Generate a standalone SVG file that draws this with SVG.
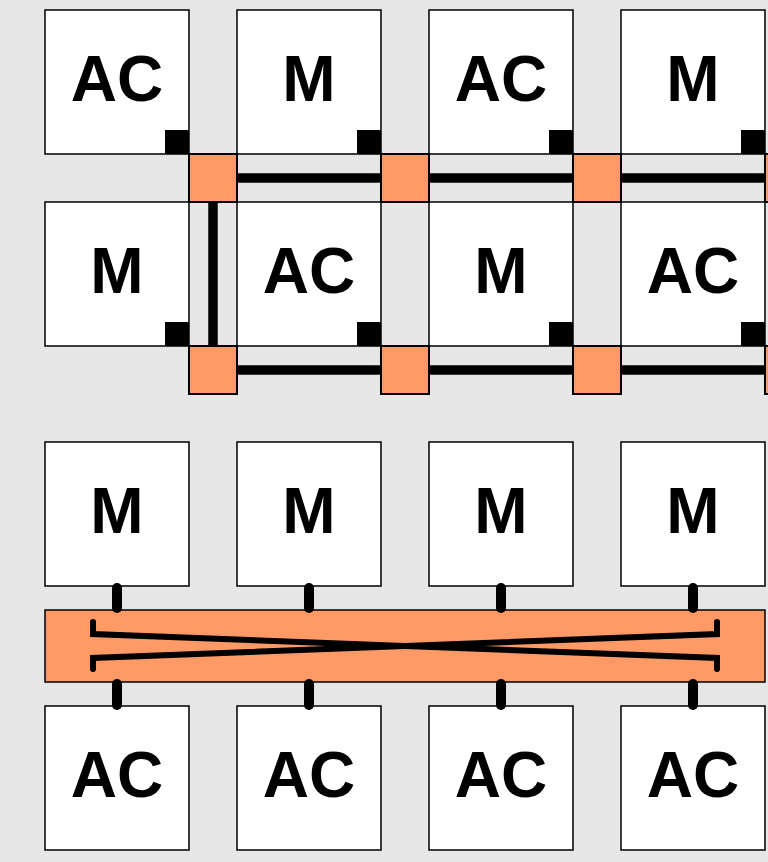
<svg xmlns="http://www.w3.org/2000/svg" width="768" height="862" viewBox="0 0 768 862">
<style>
.bg{fill:#e6e6e6}
.box{fill:#ffffff;stroke:#000;stroke-width:1.5}
.port{fill:#000}
.sw{fill:#ff9966;stroke:#000;stroke-width:2}
.bar{fill:#ff9966;stroke:#000;stroke-width:1.5}
.lbl{font-family:"Liberation Sans",Arial,sans-serif;font-weight:bold;font-size:64px;fill:#000;text-anchor:middle}
.link{stroke:#000;stroke-width:9.5;fill:none}
.stub{stroke:#000;stroke-width:10;stroke-linecap:round;fill:none}
.xl{stroke:#000;stroke-width:6;stroke-linecap:round;stroke-linejoin:miter;fill:none}
</style>
<rect class="bg" x="0" y="0" width="768" height="862"/>

<g id="r1c1"><rect class="box" x="45" y="10" width="144" height="144"/><rect class="port" x="165" y="130" width="24" height="24"/><text class="lbl" x="117" y="101">AC</text></g>
<g id="r1c2"><rect class="box" x="237" y="10" width="144" height="144"/><rect class="port" x="357" y="130" width="24" height="24"/><text class="lbl" x="309" y="101">M</text></g>
<g id="r1c3"><rect class="box" x="429" y="10" width="144" height="144"/><rect class="port" x="549" y="130" width="24" height="24"/><text class="lbl" x="501" y="101">AC</text></g>
<g id="r1c4"><rect class="box" x="621" y="10" width="144" height="144"/><rect class="port" x="741" y="130" width="24" height="24"/><text class="lbl" x="693" y="101">M</text></g>

<g id="r2c1"><rect class="box" x="45" y="202" width="144" height="144"/><rect class="port" x="165" y="322" width="24" height="24"/><text class="lbl" x="117" y="293">M</text></g>
<g id="r2c2"><rect class="box" x="237" y="202" width="144" height="144"/><rect class="port" x="357" y="322" width="24" height="24"/><text class="lbl" x="309" y="293">AC</text></g>
<g id="r2c3"><rect class="box" x="429" y="202" width="144" height="144"/><rect class="port" x="549" y="322" width="24" height="24"/><text class="lbl" x="501" y="293">M</text></g>
<g id="r2c4"><rect class="box" x="621" y="202" width="144" height="144"/><rect class="port" x="741" y="322" width="24" height="24"/><text class="lbl" x="693" y="293">AC</text></g>

<g id="b1"><rect class="box" x="45" y="442" width="144" height="144"/><text class="lbl" x="117" y="533">M</text></g>
<g id="b2"><rect class="box" x="237" y="442" width="144" height="144"/><text class="lbl" x="309" y="533">M</text></g>
<g id="b3"><rect class="box" x="429" y="442" width="144" height="144"/><text class="lbl" x="501" y="533">M</text></g>
<g id="b4"><rect class="box" x="621" y="442" width="144" height="144"/><text class="lbl" x="693" y="533">M</text></g>

<g id="crossbar">
  <rect class="bar" x="45" y="610" width="720" height="72"/>
  <path class="xl" d="M93,622 V634 L717,658 V669"/>
  <path class="xl" d="M93,669 V658 L717,634 V622"/>
</g>

<g id="c1"><rect class="box" x="45" y="706" width="144" height="144"/><text class="lbl" x="117" y="797">AC</text></g>
<g id="c2"><rect class="box" x="237" y="706" width="144" height="144"/><text class="lbl" x="309" y="797">AC</text></g>
<g id="c3"><rect class="box" x="429" y="706" width="144" height="144"/><text class="lbl" x="501" y="797">AC</text></g>
<g id="c4"><rect class="box" x="621" y="706" width="144" height="144"/><text class="lbl" x="693" y="797">AC</text></g>

<g id="connectors">
  <line class="link" x1="213" y1="200" x2="213" y2="348"/>
  <line class="link" x1="235" y1="178" x2="383" y2="178"/>
  <line class="link" x1="427" y1="178" x2="575" y2="178"/>
  <line class="link" x1="619" y1="178" x2="767" y2="178"/>
  <line class="link" x1="235" y1="370" x2="383" y2="370"/>
  <line class="link" x1="427" y1="370" x2="575" y2="370"/>
  <line class="link" x1="619" y1="370" x2="767" y2="370"/>
  <line class="stub" x1="117" y1="588" x2="117" y2="608"/>
  <line class="stub" x1="309" y1="588" x2="309" y2="608"/>
  <line class="stub" x1="501" y1="588" x2="501" y2="608"/>
  <line class="stub" x1="693" y1="588" x2="693" y2="608"/>
  <line class="stub" x1="117" y1="684" x2="117" y2="705"/>
  <line class="stub" x1="309" y1="684" x2="309" y2="705"/>
  <line class="stub" x1="501" y1="684" x2="501" y2="705"/>
  <line class="stub" x1="693" y1="684" x2="693" y2="705"/>
</g>

<g id="s1"><rect class="sw" x="189" y="154" width="48" height="48"/></g>
<g id="s2"><rect class="sw" x="381" y="154" width="48" height="48"/></g>
<g id="s3"><rect class="sw" x="573" y="154" width="48" height="48"/></g>
<g id="s4"><rect class="sw" x="765" y="154" width="48" height="48"/></g>
<g id="s5"><rect class="sw" x="189" y="346" width="48" height="48"/></g>
<g id="s6"><rect class="sw" x="381" y="346" width="48" height="48"/></g>
<g id="s7"><rect class="sw" x="573" y="346" width="48" height="48"/></g>
<g id="s8"><rect class="sw" x="765" y="346" width="48" height="48"/></g>
</svg>
